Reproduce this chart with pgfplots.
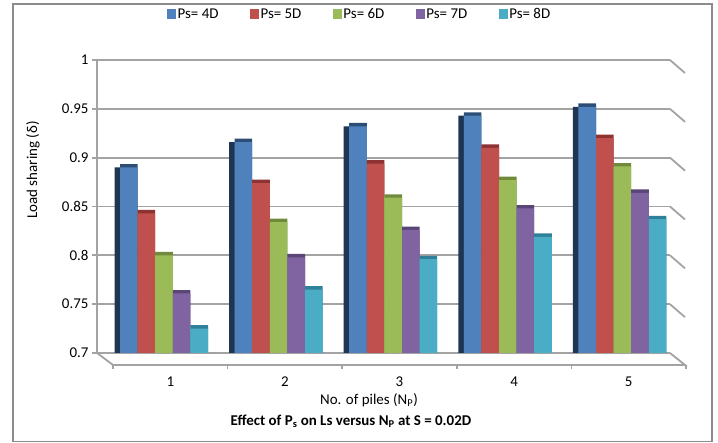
\documentclass[border=0pt]{standalone}
\usepackage{fontspec}
\setmainfont{Carlito}
\usepackage{pgfplots}
\usepackage{pgfplotstable}
\pgfplotsset{compat=1.18}

% series colours (front faces)
\definecolor{sA}{HTML}{4F81BD}
\definecolor{sB}{HTML}{C0504D}
\definecolor{sC}{HTML}{9BBB59}
\definecolor{sD}{HTML}{8064A2}
\definecolor{sE}{HTML}{4BACC6}
% darker shades for the column tops
\definecolor{sAdk}{HTML}{2C4D75}
\definecolor{sBdk}{HTML}{8E3331}
\definecolor{sCdk}{HTML}{6E8A3A}
\definecolor{sDdk}{HTML}{5A4577}
\definecolor{sEdk}{HTML}{2F8099}
\definecolor{sidec}{HTML}{1F3552}
\definecolor{gridc}{HTML}{A3A3A3}
\definecolor{framec}{HTML}{8C8C8C}

% load sharing for pile spacings 4D..8D
\pgfplotstableread{
N  p4    p5    p6    p7    p8
1  0.890 0.843 0.800 0.761 0.725
2  0.916 0.874 0.834 0.798 0.765
3  0.932 0.894 0.859 0.826 0.796
4  0.943 0.910 0.877 0.848 0.819
5  0.952 0.920 0.891 0.864 0.837
}\loadsharing

\begin{document}
\begin{tikzpicture}[font=\fontsize{15}{18}\selectfont]
\path[use as bounding box] (0,0) rectangle (718bp,443bp);
\draw[framec, line width=1.5bp] (13bp,1.5bp) rectangle (712bp,439bp);

\begin{axis}[
  at={(97bp,90bp)}, anchor=south west,
  scale only axis, width=573bp, height=293bp,
  xmin=0.5, xmax=5.5, ymin=0.7, ymax=1,
  ytick={0.7,0.75,0.8,0.85,0.9,0.95,1},
  yticklabels={0.7,0.75,0.8,0.85,0.9,0.95,1},
  xtick={1,2,3,4,5},
  xticklabels={1,2,3,4,5},
  ymajorgrids, grid style={gridc, line width=1.8bp},
  axis lines*=left,
  x axis line style={draw=none},
  y axis line style={gridc, line width=1.8bp},
  ytick style={gridc, line width=1.8bp},
  xtick style={draw=none},
  tick align=outside, major tick length=5bp,
  xticklabel style={xshift=16bp, yshift=-15bp},
  clip mode=individual,
  ybar, bar width=17.6bp,
  legend columns=5,
  legend style={draw=none, fill=none, inner sep=0pt,
    at={(axis description cs:0.122,1.157)}, anchor=west,
    nodes={inner sep=1.5bp},
    /tikz/every even column/.append style={column sep=30bp}},
  legend image code/.code={\fill[#1] (0bp,-4.5bp) rectangle (9bp,4.5bp);},
]
% Ps = 4D: dark side, top, front
\addplot[fill=sidec, draw=none, bar shift=-31bp, forget plot]
  table[x=N, y=p4] {\loadsharing};
\addplot[fill=sAdk, draw=none, bar shift=-25.5bp, forget plot]
  table[x=N, y expr=\thisrow{p4}+0.0035] {\loadsharing};
\addplot[fill=sA, draw=none, bar shift=-25.5bp]
  table[x=N, y=p4] {\loadsharing};
% Ps = 5D
\addplot[fill=sBdk, draw=none, bar shift=-7.9bp, forget plot]
  table[x=N, y expr=\thisrow{p5}+0.0035] {\loadsharing};
\addplot[fill=sB, draw=none, bar shift=-7.9bp]
  table[x=N, y=p5] {\loadsharing};
% Ps = 6D
\addplot[fill=sCdk, draw=none, bar shift=9.7bp, forget plot]
  table[x=N, y expr=\thisrow{p6}+0.0035] {\loadsharing};
\addplot[fill=sC, draw=none, bar shift=9.7bp]
  table[x=N, y=p6] {\loadsharing};
% Ps = 7D
\addplot[fill=sDdk, draw=none, bar shift=27.3bp, forget plot]
  table[x=N, y expr=\thisrow{p7}+0.0035] {\loadsharing};
\addplot[fill=sD, draw=none, bar shift=27.3bp]
  table[x=N, y=p7] {\loadsharing};
% Ps = 8D
\addplot[fill=sEdk, draw=none, bar shift=44.9bp, forget plot]
  table[x=N, y expr=\thisrow{p8}+0.0035] {\loadsharing};
\addplot[fill=sE, draw=none, bar shift=44.9bp]
  table[x=N, y=p8] {\loadsharing};
\legend{Ps= 4D, Ps= 5D, Ps= 6D, Ps= 7D, Ps= 8D}

% side wall edges at each gridline
\pgfplotsinvokeforeach{0.75,0.8,0.85,0.9,0.95,1}{
  \draw[gridc, line width=1.8bp] (axis cs:5.5,#1) -- ++(15bp,-13bp);
}
% floor
\draw[gridc, line width=1.8bp] (axis cs:0.5,0.7) -- ++(16bp,-12bp)
  -- ([shift={(15bp,-12bp)}]axis cs:5.5,0.7) -- (axis cs:5.5,0.7);
\pgfplotsinvokeforeach{0,1,2,3,4,5}{
  \draw[gridc, line width=1.5bp] ([shift={(16bp,-12bp)}]axis cs:0.5+#1,0.7) -- ++(0bp,-4bp);
}
\end{axis}

\node at (33bp,273bp) [rotate=90] {Load sharing (δ)};
\node at (369bp,43bp) {No. of piles (N\textsubscript{P})};
\node at (351bp,22bp) {\bfseries Effect of P\textsubscript{s} on Ls versus N\textsubscript{P} at S = 0.02D};
\end{tikzpicture}
\end{document}
